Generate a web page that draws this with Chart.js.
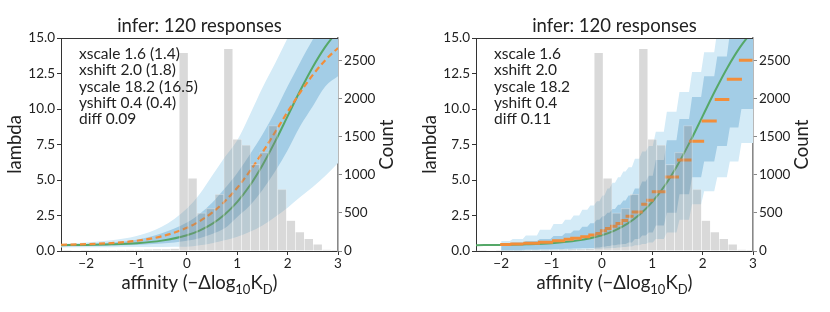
<!DOCTYPE html>
<html>
<head>
<meta charset="utf-8">
<script src="https://cdn.jsdelivr.net/npm/chart.js@4.4.0/dist/chart.umd.min.js"></script>
<style>
  body { margin: 0; background: #fff; width: 830px; height: 312px; overflow: hidden; }
  .panel { position: absolute; top: 0; width: 415px; height: 312px; }
</style>
</head>
<body>
<div class="panel" style="left:0"><canvas id="panelIzq" width="415" height="312"></canvas></div>
<div class="panel" style="left:415px"><canvas id="panelDer" width="415" height="312"></canvas></div>
<script>
// Textos y marcas de los ejes
const titulo = 'infer: 120 responses';
const xTicks = [-2, -1, 0, 1, 2, 3];
const lambdaTicks = [0, 2.5, 5, 7.5, 10, 12.5, 15];
const countTicks = [0, 500, 1000, 1500, 2000, 2500];
const textoIzq = ['xscale 1.6 (1.4)', 'xshift 2.0 (1.8)', 'yscale 18.2 (16.5)', 'yshift 0.4 (0.4)', 'diff 0.09'];
const textoDer = ['xscale 1.6', 'xshift 2.0', 'yscale 18.2', 'yshift 0.4', 'diff 0.11'];

// Histograma (igual en los dos paneles)
const binCentros = [-2.55, -2.3725, -2.195, -2.0175, -1.84, -1.6625, -1.485, -1.3075, -1.13, -0.9525,
  -0.775, -0.5975, -0.42, -0.2425, -0.065, 0.1125, 0.29, 0.4675, 0.645, 0.8225, 1.0, 1.1775,
  1.355, 1.5325, 1.71, 1.8875, 2.065, 2.2425, 2.42, 2.5975, 2.775, 2.9525];
const conteos = [3, 5, 6, 8, 10, 12, 14, 16, 18, 20, 22, 25, 28, 32, 2600, 955, 500, 560, 745, 2650,
  1465, 1390, 1135, 1295, 1645, 810, 400, 250, 160, 90, 20, 5];

// Panel izquierdo: curvas suaves
const xCurva = [-2.5, -2, -1.5, -1, -0.5, 0, 0.25, 0.5, 0.75, 1, 1.25, 1.5, 1.75, 2, 2.25, 2.5, 2.75, 3];
const lambdaVerdadera = [0.41, 0.43, 0.47, 0.55, 0.73, 1.11, 1.44, 1.91, 2.57, 3.46, 4.61, 6.04, 7.70, 9.50, 11.30, 12.96, 14.39, 15.54];
const lambdaInferida = [0.44, 0.48, 0.56, 0.72, 1.03, 1.63, 2.09, 2.70, 3.49, 4.46, 5.62, 6.94, 8.36, 9.80, 11.17, 12.40, 13.45, 14.30];
const izqExtSup = [0.5, 0.6, 0.75, 1.05, 1.7, 3.0, 4.0, 5.3, 6.6, 7.8, 9.6, 11.5, 13.2, 15.0, 16.7, 18.3, 19.8, 21.2];
const izqIntSup = [0.45, 0.5, 0.6, 0.8, 1.25, 2.0, 2.6, 3.4, 4.4, 5.5, 6.8, 8.2, 9.8, 11.6, 13.3, 14.9, 16.3, 17.5];
const izqIntInf = [0.33, 0.35, 0.38, 0.42, 0.52, 0.72, 0.9, 1.2, 1.6, 2.4, 3.2, 4.3, 5.6, 7.1, 8.8, 10.2, 11.6, 12.3];
const izqExtInf = [0.25, 0.26, 0.27, 0.28, 0.29, 0.3, 0.4, 0.55, 0.75, 1.0, 1.35, 1.8, 2.4, 3.05, 3.8, 4.5, 5.3, 6.2];

// Panel derecho: valores por intervalo
const bordesDer = [-2.0, -1.80, -1.54, -1.26, -0.99, -0.76, -0.59, -0.42, -0.26, -0.13, -0.02, 0.08, 0.18, 0.29,
  0.395, 0.50, 0.625, 0.77, 0.90, 1.04, 1.26, 1.51, 1.76, 2.00, 2.26, 2.51, 2.74, 3.0];
const naranjaIni = [-2.02, -1.82, -1.56, -1.27, -0.99, -0.76, -0.63, -0.43, -0.27, -0.13, -0.04, 0.06, 0.16, 0.27,
  0.37, 0.47, 0.59, 0.78, 0.88, 0.99, 1.25, 1.49, 1.73, 1.98, 2.24, 2.48, 2.72];
const naranjaFin = [-1.80, -1.56, -1.23, -0.97, -0.73, -0.56, -0.40, -0.23, -0.11, 0.00, 0.10, 0.20, 0.31, 0.42,
  0.52, 0.63, 0.81, 0.91, 1.03, 1.27, 1.53, 1.78, 2.03, 2.28, 2.53, 2.78, 2.99];
const naranjaLambda = [0.45, 0.50, 0.54, 0.61, 0.73, 0.82, 0.89, 1.00, 1.13, 1.24, 1.43, 1.59, 1.75, 1.93,
  2.15, 2.45, 2.75, 3.29, 3.58, 4.18, 5.21, 6.40, 7.73, 9.15, 10.67, 12.10, 13.43];
const derExtSup = [0.7, 0.85, 1.1, 1.5, 1.9, 2.2, 2.5, 2.9, 3.2, 3.5, 3.9, 4.4, 4.8, 5.2, 5.6, 5.9, 6.5, 7.0, 7.4, 8.4, 9.8, 11.2, 12.6, 14.0, 15.5, 17.0, 18.5];
const derIntSup = [0.55, 0.6, 0.7, 0.85, 1.05, 1.25, 1.45, 1.7, 1.95, 2.2, 2.45, 2.7, 2.95, 3.25, 3.55, 3.9, 4.4, 4.9, 5.3, 6.4, 7.8, 9.3, 10.85, 12.3, 13.7, 15.3, 16.8];
const derIntInf = [0.05, 0.06, 0.08, 0.1, 0.12, 0.15, 0.18, 0.2, 0.22, 0.25, 0.3, 0.35, 0.4, 0.45, 0.5, 0.6, 0.85, 1.1, 1.3, 1.8, 2.7, 4.0, 5.2, 6.3, 7.4, 8.7, 10.0];
const derExtInf = [0.02, 0.02, 0.03, 0.04, 0.05, 0.06, 0.08, 0.1, 0.12, 0.15, 0.18, 0.2, 0.22, 0.25, 0.28, 0.32, 0.4, 0.5, 0.6, 0.85, 1.3, 2.2, 3.3, 4.2, 5.2, 6.3, 7.6];

// Colores
const azulClaro = '#d4ebf7';
const azulMedio = '#a3cde6';
const verde = '#55a868';
const naranja = '#f28e3a';

const puntos = (xs, ys) => xs.map((x, i) => ({ x: x, y: ys[i] }));

// Banda escalonada: un tramo plano por intervalo, con subida inclinada entre tramos
function escalones(bordes, valores) {
  const r = 0.03;
  const out = [];
  valores.forEach((v, i) => {
    const a = i === 0 ? bordes[i] : bordes[i] + r;
    const b = i === valores.length - 1 ? bordes[i + 1] : bordes[i + 1] - r;
    out.push({ x: a, y: v }, { x: b, y: v });
  });
  return out;
}

// Guiones horizontales separados por huecos (null)
function guiones(ini, fin, ys) {
  const out = [];
  ys.forEach((y, i) => {
    out.push({ x: ini[i], y: y }, { x: fin[i], y: y }, { x: fin[i], y: null });
  });
  return out;
}

const linea = (data, extra) => Object.assign({
  type: 'line', data: data, yAxisID: 'y', pointRadius: 0, borderWidth: 0,
  fill: false, tension: 0
}, extra);

const histograma = () => ({
  type: 'bar', data: puntos(binCentros, conteos), yAxisID: 'yc',
  backgroundColor: 'rgba(128,128,128,0.3)', borderColor: 'rgba(255,255,255,0.35)',
  borderWidth: 0.6, barPercentage: 1, categoryPercentage: 1, order: 1
});

// Título, recuadro de texto y títulos de ejes
const decoraciones = {
  id: 'decoraciones',
  afterDraw(chart, args, opts) {
    const { ctx, chartArea: a } = chart;
    const cx = (a.left + a.right) / 2;
    const cy = (a.top + a.bottom) / 2;
    ctx.save();
    ctx.strokeStyle = '#333';
    ctx.lineWidth = 1;
    ctx.beginPath();
    ctx.moveTo(a.left, a.top + 0.5);
    ctx.lineTo(a.right, a.top + 0.5);
    ctx.stroke();

    ctx.fillStyle = '#222';
    ctx.textAlign = 'center';
    ctx.textBaseline = 'alphabetic';
    ctx.font = '18.5px Lato';
    ctx.fillText(titulo, cx, 32);

    ctx.textAlign = 'left';
    ctx.font = '15.5px Lato';
    opts.lineas.forEach((t, i) => ctx.fillText(t, a.left + 18, a.top + 21 + i * 16.3));

    // eje x con subíndices
    const partes = [['affinity (\u2212\u0394log', 18.5, 0], ['10', 13, 4.5], ['K', 18.5, 0], ['D', 13, 4.5], [')', 18.5, 0]];
    let ancho = 0;
    partes.forEach(p => { ctx.font = p[1] + 'px Lato'; ancho += ctx.measureText(p[0]).width; });
    let px = cx - ancho / 2;
    partes.forEach(p => {
      ctx.font = p[1] + 'px Lato';
      ctx.fillText(p[0], px, 289 + p[2]);
      px += ctx.measureText(p[0]).width;
    });

    ctx.font = '18.5px Lato';
    ctx.textAlign = 'center';
    ctx.textBaseline = 'middle';
    ctx.save();
    ctx.translate(15, cy);
    ctx.rotate(-Math.PI / 2);
    ctx.fillText('lambda', 0, 0);
    ctx.restore();
    ctx.save();
    ctx.translate(387, cy);
    ctx.rotate(-Math.PI / 2);
    ctx.fillText('Count', 0, 0);
    ctx.restore();
    ctx.restore();
  }
};

function crearPanel(idCanvas, datasets, lineasTexto) {
  const ctx = document.getElementById(idCanvas).getContext('2d');
  const fuente = { family: 'Lato', size: 13.5 };
  return new Chart(ctx, {
    type: 'bar',
    data: { datasets: datasets },
    options: {
      responsive: false,
      animation: false,
      layout: { padding: { top: 38, left: 0, right: 0, bottom: 0 } },
      plugins: {
        legend: { display: false },
        tooltip: { enabled: false },
        decoraciones: { lineas: lineasTexto }
      },
      scales: {
        x: {
          type: 'linear', position: 'bottom', min: -2.5, max: 3, offset: false,
          afterBuildTicks: s => { s.ticks = xTicks.map(v => ({ value: v })); },
          afterFit: s => { s.height = 61; },
          grid: { drawOnChartArea: false, drawTicks: true, tickLength: 4, color: '#333', offset: false },
          border: { color: '#333', width: 1 },
          ticks: { font: fuente, color: '#222', padding: 1, maxRotation: 0,
            callback: v => v < 0 ? '\u2212' + Math.abs(v) : String(v) }
        },
        y: {
          type: 'linear', position: 'left', min: 0, max: 15,
          afterBuildTicks: s => { s.ticks = lambdaTicks.map(v => ({ value: v })); },
          afterFit: s => { s.width = 61; },
          grid: { drawOnChartArea: false, drawTicks: true, tickLength: 4, color: '#333' },
          border: { color: '#333', width: 1 },
          ticks: { font: fuente, color: '#222', padding: 2, callback: v => v.toFixed(1) }
        },
        yc: {
          type: 'linear', position: 'right', min: 0, max: 2792,
          afterBuildTicks: s => { s.ticks = countTicks.map(v => ({ value: v })); },
          afterFit: s => { s.width = 77; },
          grid: { drawOnChartArea: false, drawTicks: true, tickLength: 4, color: '#888' },
          border: { color: '#888', width: 1.6 },
          ticks: { font: fuente, color: '#222', padding: 2, callback: v => String(v) }
        }
      }
    },
    plugins: [decoraciones]
  });
}

// Panel izquierdo
crearPanel('panelIzq', [
  linea(puntos(xCurva, izqExtInf), { cubicInterpolationMode: 'monotone', order: 6 }),
  linea(puntos(xCurva, izqExtSup), { cubicInterpolationMode: 'monotone', order: 6, fill: '-1', backgroundColor: azulClaro }),
  linea(puntos(xCurva, izqIntInf), { cubicInterpolationMode: 'monotone', order: 5 }),
  linea(puntos(xCurva, izqIntSup), { cubicInterpolationMode: 'monotone', order: 5, fill: '-1', backgroundColor: azulMedio }),
  linea(puntos(xCurva, lambdaVerdadera), { cubicInterpolationMode: 'monotone', order: 3, borderColor: verde, borderWidth: 2 }),
  linea(puntos(xCurva, lambdaInferida), { cubicInterpolationMode: 'monotone', order: 2, borderColor: naranja, borderWidth: 2.2, borderDash: [6, 3.5] }),
  histograma()
], textoIzq);

// Panel derecho
crearPanel('panelDer', [
  linea(escalones(bordesDer, derExtInf), { order: 6 }),
  linea(escalones(bordesDer, derExtSup), { order: 6, fill: '-1', backgroundColor: azulClaro }),
  linea(escalones(bordesDer, derIntInf), { order: 5 }),
  linea(escalones(bordesDer, derIntSup), { order: 5, fill: '-1', backgroundColor: azulMedio }),
  linea(puntos(xCurva, lambdaVerdadera), { cubicInterpolationMode: 'monotone', order: 3, borderColor: verde, borderWidth: 2 }),
  linea(guiones(naranjaIni, naranjaFin, naranjaLambda), { order: 2, borderColor: naranja, borderWidth: 3, spanGaps: false }),
  histograma()
], textoDer);
</script>
</body>
</html>
